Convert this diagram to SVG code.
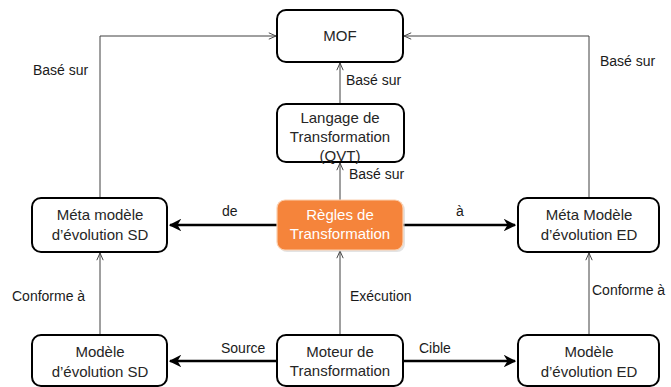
<svg xmlns="http://www.w3.org/2000/svg" width="671" height="387" viewBox="0 0 671 387">
<defs>
<style>
.box{fill:#ffffff;stroke:#000000;stroke-width:2}
.hl{fill:#F5843B;stroke:#FBD0B0;stroke-width:1.2}
.t{font-family:"Liberation Sans",Arial,sans-serif;font-size:15px;fill:#262626;text-anchor:middle}
.tw{font-family:"Liberation Sans",Arial,sans-serif;font-size:15px;fill:#ffffff;text-anchor:middle}
.lb{font-family:"Liberation Sans",Arial,sans-serif;font-size:14px;fill:#1a1a1a}
.thin{fill:none;stroke:#404040;stroke-width:1}
.thick{fill:none;stroke:#000000;stroke-width:2.5}
</style>
<marker id="open" viewBox="0 0 10 10" refX="10" refY="5" markerWidth="8" markerHeight="8" markerUnits="userSpaceOnUse" orient="auto">
<path d="M1,1 L10,5 L1,9" fill="none" stroke="#404040" stroke-width="1.2"/>
</marker>
<marker id="bold" viewBox="0 0 10 10" refX="9" refY="5" markerWidth="5" markerHeight="5" orient="auto">
<path d="M0,0 L10,5 L0,10 L3,5 Z" fill="#000000"/>
</marker>
</defs>

<g id="connectors">
<path class="thin" d="M100,198 V36 H276" marker-end="url(#open)"/>
<path class="thin" d="M589,198 V36 H404" marker-end="url(#open)"/>
<path class="thin" d="M340,104 V63" marker-end="url(#open)"/>
<path class="thin" d="M340,200 V163" marker-end="url(#open)"/>
<path class="thin" d="M100,335 V253" marker-end="url(#open)"/>
<path class="thin" d="M340,335 V251" marker-end="url(#open)"/>
<path class="thin" d="M589,335 V253" marker-end="url(#open)"/>
<path class="thick" d="M277,225 H170" marker-end="url(#bold)"/>
<path class="thick" d="M403,225 H515" marker-end="url(#bold)"/>
<path class="thick" d="M277,361 H170" marker-end="url(#bold)"/>
<path class="thick" d="M403,361 H515" marker-end="url(#bold)"/>
<text class="lb" x="33" y="75">Basé sur</text>
<text class="lb" x="600" y="66">Basé sur</text>
<text class="lb" x="346" y="85">Basé sur</text>
<text class="lb" x="349" y="179">Basé sur</text>
<text class="lb" x="222" y="216">de</text>
<text class="lb" x="456" y="216">à</text>
<text class="lb" x="12" y="301">Conforme à</text>
<text class="lb" x="350" y="301">Exécution</text>
<text class="lb" x="592" y="295">Conforme à</text>
<text class="lb" x="221" y="353">Source</text>
<text class="lb" x="419" y="353">Cible</text>
</g>

<g id="mof">
<rect class="box" x="277" y="10" width="126" height="52" rx="9"/>
<text class="t" x="340" y="41">MOF</text>
</g>

<g id="langage">
<rect class="box" x="277" y="104" width="127" height="58" rx="9"/>
<text class="t" x="340" y="123">Langage de</text>
<text class="t" x="340" y="142">Transformation</text>
<text class="t" x="340" y="161">(QVT)</text>
</g>

<g id="regles">
<rect x="279" y="202" width="126" height="50" rx="8" fill="#c8c8c8" opacity="0.5"/>
<rect class="hl" x="277" y="200" width="126" height="50" rx="8"/>
<text class="tw" x="340" y="220">Règles de</text>
<text class="tw" x="340" y="239">Transformation</text>
</g>

<g id="meta-sd">
<rect class="box" x="32" y="198" width="135" height="54" rx="9"/>
<text class="t" x="100" y="220">Méta modèle</text>
<text class="t" x="100" y="240">d’évolution SD</text>
</g>

<g id="meta-ed">
<rect class="box" x="518" y="198" width="141" height="54" rx="9"/>
<text class="t" x="589" y="220">Méta Modèle</text>
<text class="t" x="589" y="240">d’évolution ED</text>
</g>

<g id="modele-sd">
<rect class="box" x="32" y="335" width="135" height="51" rx="9"/>
<text class="t" x="100" y="357">Modèle</text>
<text class="t" x="100" y="377">d’évolution SD</text>
</g>

<g id="moteur">
<rect class="box" x="277" y="335" width="126" height="51" rx="9"/>
<text class="t" x="340" y="357">Moteur de</text>
<text class="t" x="340" y="376">Transformation</text>
</g>

<g id="modele-ed">
<rect class="box" x="518" y="335" width="141" height="51" rx="9"/>
<text class="t" x="589" y="357">Modèle</text>
<text class="t" x="589" y="377">d’évolution ED</text>
</g>
</svg>
